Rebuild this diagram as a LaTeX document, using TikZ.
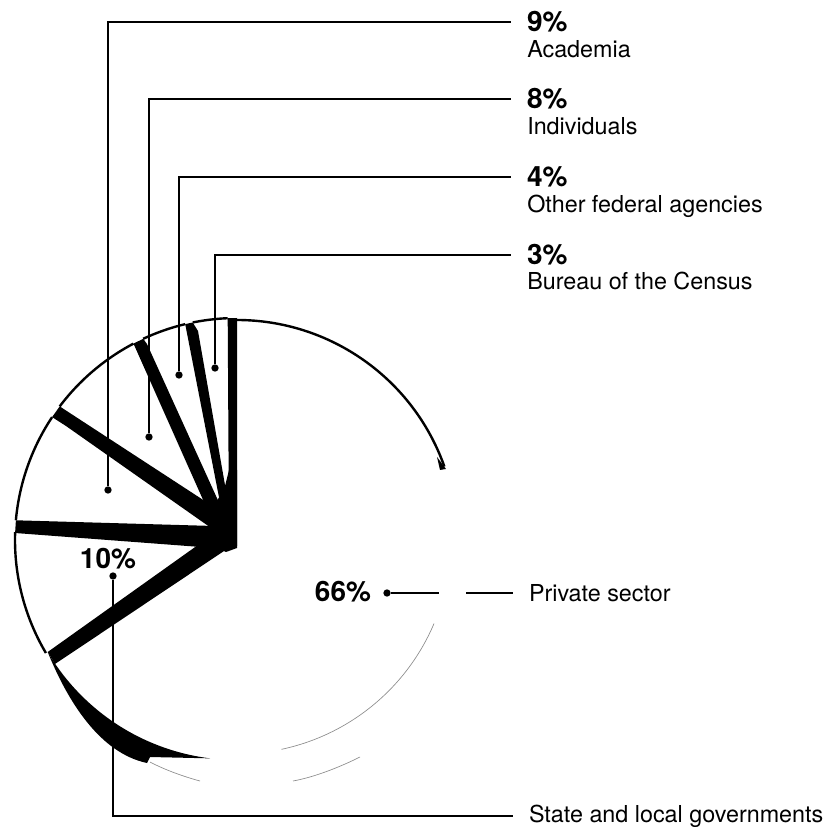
\documentclass[tikz,border=0pt]{standalone}
\usepackage{fontspec}
\setmainfont{TeX Gyre Heros}
\usepackage{tikz}
\usetikzlibrary{positioning,calc}

\begin{document}
\begin{tikzpicture}[x=0.75pt,y=0.75pt,yscale=-1,xscale=1,
  pct/.style={font=\bfseries\fontsize{21}{25}\selectfont,inner sep=0pt,outer xsep=12pt},
  sect/.style={font=\fontsize{17.5}{21}\selectfont,inner sep=0pt},
  tail/.style={sect,outer xsep=12pt},
  lead/.style={line width=1.6pt},
  rim/.style={line width=1.8pt},
  faint/.style={line width=0.5pt,black!45},
  dot/.style={circle,fill,inner sep=0pt,minimum size=5.5pt}]
\useasboundingbox (0,0) rectangle (840,827);
\coordinate (C) at (237,540);

%Arcs of the slices
\draw[rim] ($(C)+(-90:220)$) arc[start angle=-90,end angle=-19.5,radius=220];
\draw[rim] ($(C)+(-92.4:222)$) arc[start angle=-92.4,end angle=-101.5,radius=222];
\draw[rim] ($(C)+(-103.5:222)$) arc[start angle=-103.5,end angle=-115,radius=222];
\draw[rim] ($(C)+(-117.8:222)$) arc[start angle=-117.8,end angle=-143,radius=222];
\draw[rim] ($(C)+(-146.4:222)$) arc[start angle=-146.4,end angle=-174.9,radius=222];
\draw[rim] ($(C)+(-178:222)$) arc[start angle=-178,end angle=-210.6,radius=222];
\fill (437,457) -- (446,469) -- (440,470) -- cycle;

%Faint outline (private sector)
\draw[faint] ($(C)+(23:214)$) arc[start angle=23,end angle=78,radius=214];
\draw[faint] (150,762) .. controls (165,770) and (185,777) .. (200,781);
\draw[faint] (293,781) .. controls (315,777) and (340,767) .. (360,757);

%Dark sides
\fill (227.7,318.2) -- (237,318) -- (237,546) -- (229,535) -- cycle;
\fill (185.2,324.1) -- (192.7,322.5) -- (198,331) -- (232,525) -- (225,528) -- cycle;
\fill (133.5,343.6) -- (143.2,338.8) -- (147,344) -- (226,518) -- (212,520) -- cycle;
\fill (52.1,417.1) -- (59.7,406.4) -- (214,507) -- (214,530) -- (66,426) -- cycle;
\fill (15.9,520.3) -- (214,526) -- (214,548) -- (15.1,533) -- cycle;
\fill (47.7,652) -- (205,540) -- (233,545) -- (55,664) -- cycle;
\fill (214,505) -- (224,490) -- (229,470) -- (237,470) -- (237,548) -- (226,552) -- (207,543) -- (212,530) -- cycle;
\fill (47.7,652) .. controls (68,702) and (100,753) .. (147,763) -- (150,757) -- ($(C)+(97:220)$) arc[start angle=97,end angle=149.4,radius=220] -- cycle;

% Text Node
\node[pct,anchor=west] (pAcad) at (511,22) {9\%};
\node[sect,anchor=base west] (nAcad) at (527,58) {Academia};
% Text Node
\node[pct,anchor=west] (pInd) at (511,99) {8\%};
\node[sect,anchor=base west] (nInd) at (527,135) {Individuals};
% Text Node
\node[pct,anchor=west] (pFed) at (511,177) {4\%};
\node[sect,anchor=base west] (nFed) at (527,213) {Other federal agencies};
% Text Node
\node[pct,anchor=west] (pCen) at (511,255) {3\%};
\node[sect,anchor=base west] (nCen) at (527,290) {Bureau of the Census};
% Text Node
\node[pct] (p66) at (343,592) {66\%};
\node[tail,anchor=west] (nPriv) at (513,593) {Private sector};
% Text Node
\node[pct] (p10) at (108,559) {10\%};
\node[tail,anchor=west] (nState) at (513,816) {State and local governments};

%Dots
\node[dot] (dAcad) at (108,490) {};
\node[dot] (dInd) at (149,437) {};
\node[dot] (dFed) at (179,375) {};
\node[dot] (dCen) at (215,368) {};
\node[dot] (d66) at (387,593) {};
\node[dot] (d10) at (113,576) {};
\coordinate (gapL) at (439,593);
\coordinate (gapR) at (466,593);

%Leader lines
\draw[lead] (dAcad) |- (pAcad);
\draw[lead] (dInd) |- (pInd);
\draw[lead] (dFed) |- (pFed);
\draw[lead] (dCen) |- (pCen);
\draw[lead] (d66) -- (gapL);
\draw[lead] (gapR) -- (nPriv);
\draw[lead] (d10) |- (nState);
\end{tikzpicture}
\end{document}
